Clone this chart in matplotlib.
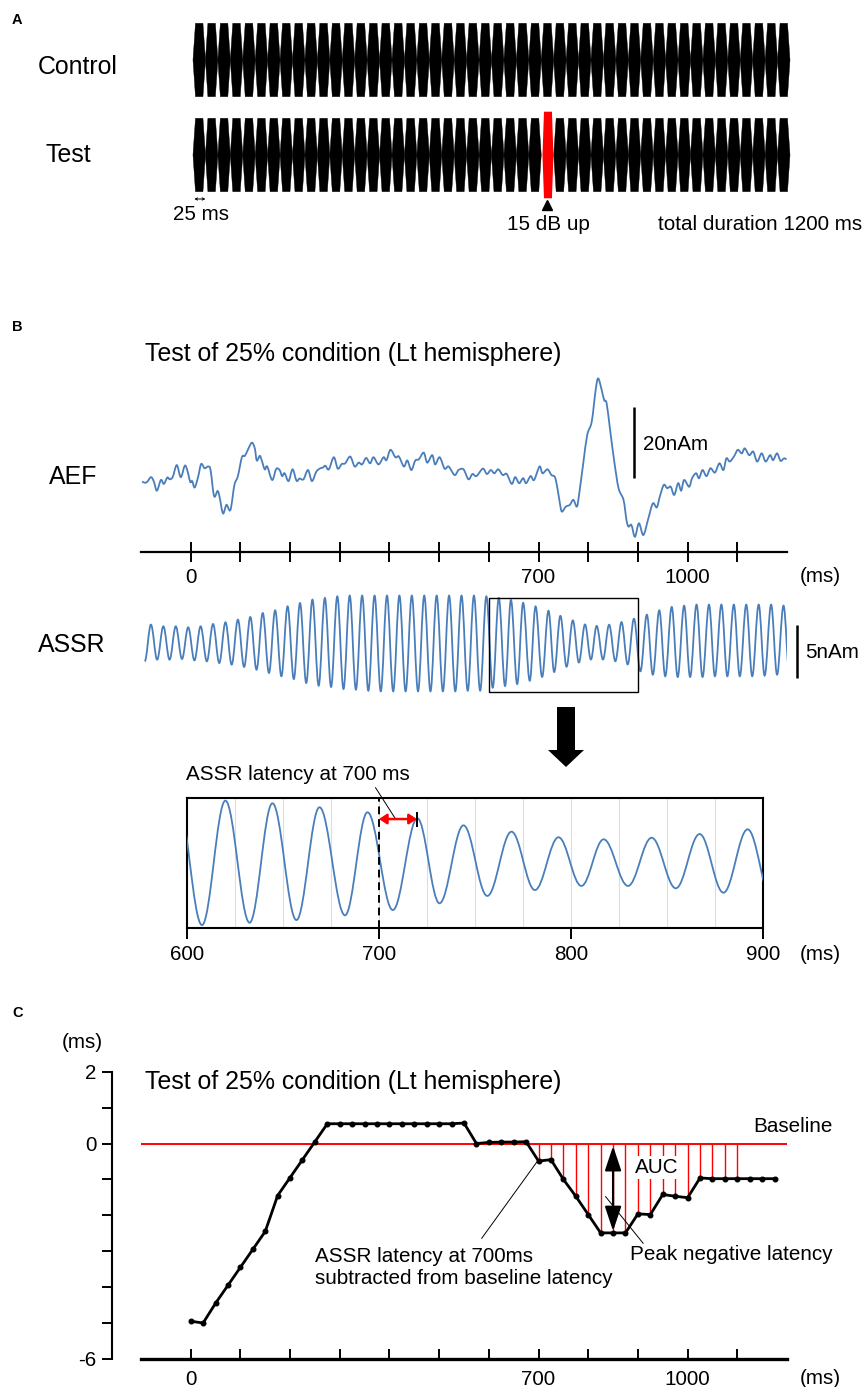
import numpy as np
import matplotlib
matplotlib.use("Agg")
import matplotlib.pyplot as plt
from matplotlib.path import Path
from matplotlib.patches import PathPatch, Polygon, Rectangle

plt.rcParams['font.family'] = ['Liberation Sans', 'DejaVu Sans']

# ---------------- data ----------------
# Panel A: stimulus (40-Hz tone bursts of 25 ms, total 1200 ms)
n_bursts = 48
burst_ms = 25
louder_burst_index = 28          # burst starting at 700 ms (15 dB up)
louder_gain = 1.18               # drawn height relative to the others

# Panel B: AEF waveform (ms, nAm)
aef_t = [-98, -89, -80, -74, -68, -60, -54, -47, -42, -36,
         -28, -20, -12, -7, -1, 3, 8, 15, 21, 28,
         35, 40, 47, 54, 58, 65, 72, 80, 88, 95,
         103, 109, 115, 123, 129, 133, 139, 143, 149, 154,
         164, 172, 179, 184, 189, 197, 205, 213, 219, 227,
         236, 244, 253, 261, 266, 271, 278, 288, 296, 304,
         311, 321, 330, 338, 345, 353, 361, 368, 378, 388,
         394, 402, 412, 419, 429, 436, 444, 452, 459, 469,
         476, 486, 492, 501, 511, 519, 531, 539,
         549, 559, 567, 575, 588, 596, 604, 611, 619, 628,
         636, 646, 653, 661, 669, 675, 684, 691, 702, 708,
         718, 726, 733, 738, 743, 747, 755, 763, 770, 777,
         781, 790, 798, 807, 815, 820, 827, 832, 837, 844,
         852, 861, 871, 877, 881, 887, 894, 902, 911, 921,
         930, 938, 944, 952, 959, 966, 973, 981, 987, 993,
         1003, 1009, 1017, 1023, 1030, 1038, 1046, 1055, 1064, 1072,
         1078, 1085, 1094, 1101, 1109, 1115, 1124, 1132, 1140, 1149,
         1157, 1166, 1172, 1180, 1187, 1194, 1199]
aef_v = [-0.5, -0.7, 0.8, -0.5, -3.0, 0.0, -1.1, 0.7, 0.2, 0.9,
         4.2, 0.8, 4.0, 2.8, -0.5, -0.3, -2.1, 0.9, 4.5, 3.3,
         3.8, 2.8, -4.5, -3.1, -4.7, -9.4, -7.0, -8.4, -1.4, 1.1,
         6.4, 6.8, 8.5, 10.5, 8.9, 5.5, 6.8, 5.5, 3.0, 3.8,
         0.0, 3.1, 2.8, 1.1, 1.9, -0.3, 3.0, -0.2, 0.4, 0.2,
         2.8, -0.3, 2.4, 3.3, 3.5, 4.0, 3.0, 6.4, 3.2, 4.5,
         4.7, 6.6, 3.8, 4.9, 4.4, 6.2, 4.7, 6.4, 4.4, 6.4,
         5.6, 8.5, 6.4, 6.6, 3.8, 5.5, 2.8, 5.5, 5.8, 7.7,
         4.9, 7.0, 4.4, 6.4, 3.2, 3.8, 1.4, 2.8,
         3.0, 0.2, 1.7, 1.1, 3.2, 1.7, 2.8, 1.9, 3.0, 1.4,
         1.7, -1.1, 0.8, -0.9, 0.5, -0.9, 1.1, 0.0, 3.8, 1.9,
         3.0, 1.4, 0.8, -2.3, -6.6, -8.9, -7.5, -7.0, -5.6, -7.5,
         -4.7, 4.7, 12.7, 16.4, 25.4, 28.6, 25.4, 22.5, 21.6, 14.1,
         5.6, -2.3, -5.6, -11.3, -13.1, -12.7, -16.0, -12.2, -15.5, -10.8,
         -6.6, -7.7, -4.7, -1.4, -2.3, -1.9, -4.2, -0.9, -3.0, 0.0,
         -1.9, 0.5, 1.9, 0.5, 2.8, 1.1, 3.3, 2.1, 4.7, 2.8,
         6.1, 5.2, 6.8, 8.5, 7.5, 8.9, 7.0, 8.0, 5.2, 7.5,
         5.2, 7.0, 5.6, 7.5, 5.4, 6.1, 5.8]

# Panel B: ASSR waveform, peaks and troughs (ms, nAm)
assr_peak_t = [-80, -55, -30, -5, 20, 45, 70, 95, 120, 145, 170, 195, 220, 245,
               270, 295, 320, 345, 370, 395, 420, 445, 470, 495, 520, 545, 570, 595,
               620, 644.5, 669, 694, 720, 744, 769, 793.5, 817, 842, 867, 892,
               918, 943, 968, 993, 1018, 1043, 1068, 1093, 1118, 1143, 1168, 1193]
assr_peak_v = [1.73, 1.57, 1.57, 1.48, 1.57, 1.79, 1.95, 2.20, 2.45, 2.83, 3.08, 3.46, 3.77, 4.09,
               4.25, 4.40, 4.47, 4.47, 4.47, 4.47, 4.47, 4.47, 4.47, 4.47, 4.47, 4.47, 4.47, 4.40,
               4.24, 4.06, 3.79, 3.45, 3.04, 2.56, 2.13, 1.75, 1.61, 1.72, 1.97, 2.29,
               2.67, 3.08, 3.40, 3.52, 3.62, 3.62, 3.62, 3.62, 3.62, 3.62, 3.62, 3.52]
assr_trough_t = [-92.5, -67.5, -42.5, -17.5, 7.5, 32.5, 57.5, 82.5, 107.5, 132.5, 157.5, 182.5,
                 207.5, 232.5, 257.5, 282.5, 307.5, 332.5, 357.5, 382.5, 407.5, 432.5, 457.5,
                 482.5, 507.5, 532.5, 557.5, 582.5,
                 607.8, 632.6, 657, 682.3, 707.2, 731.5, 756.4, 781.2, 805.4, 829.7, 854.6, 879.4,
                 905, 930, 955, 980, 1005, 1030, 1055, 1080, 1105, 1130, 1155, 1180, 1205]
assr_trough_v = [-1.73, -1.57, -1.57, -1.51, -1.64, -1.73, -1.89, -2.04, -2.26, -2.52, -2.83, -3.14,
                 -3.40, -3.77, -4.03, -4.15, -4.34, -4.40, -4.50, -4.56, -4.56, -4.56, -4.56,
                 -4.56, -4.56, -4.56, -4.50, -4.50,
                 -4.22, -4.06, -3.88, -3.56, -3.20, -2.74, -2.24, -1.84, -1.56, -1.56, -1.72, -2.02,
                 -2.67, -2.99, -3.14, -3.21, -3.21, -3.21, -3.14, -3.14, -3.14, -3.14, -3.08, -2.99, -2.99]
zoom_window = (600, 900)
latency_peak_ms = 719.7      # first ASSR peak after 700 ms
latency_ref_ms = 700

# Panel C: ASSR latency change relative to baseline (ms)
lat_t = [0, 25, 50, 75, 100, 125, 150, 175, 200, 225, 250, 275,
         300, 325, 350, 375, 400, 425, 450, 475, 500, 525, 550, 575,
         600, 625, 650, 675, 700, 725, 750, 775, 800, 825, 850, 875,
         900, 925, 950, 975, 1000, 1025, 1050, 1075, 1100, 1125, 1150, 1175]
lat_v = [-4.95, -5.0, -4.45, -3.95, -3.45, -2.95, -2.45, -1.45, -0.95, -0.45, 0.05, 0.55,
         0.55, 0.55, 0.55, 0.55, 0.55, 0.55, 0.55, 0.55, 0.55, 0.55, 0.57, 0.0,
         0.03, 0.04, 0.04, 0.05, -0.49, -0.45, -1.0, -1.47, -1.98, -2.49, -2.49, -2.49,
         -1.96, -1.98, -1.42, -1.47, -1.51, -0.96, -0.98, -0.98, -0.98, -0.98, -0.98, -0.98]
auc_range = (700, 1100)
peak_neg_ms = 850

# ---------------- helpers ----------------
W, H = 863, 1387
fig = plt.figure(figsize=(W / 100, H / 100), dpi=100)


def fx(px):
    return px / W


def fy(py):
    return 1 - py / H


def add_ax(left, top, right, bottom):
    return fig.add_axes([left / W, 1 - bottom / H, (right - left) / W, (bottom - top) / H])


def extrema_path(ts, vs):
    """smooth oscillation through alternating extrema (horizontal tangents)"""
    k = 1 - 2 / np.pi
    verts = [(ts[0], vs[0])]
    codes = [Path.MOVETO]
    for i in range(len(ts) - 1):
        d = ts[i + 1] - ts[i]
        verts += [(ts[i] + k * d, vs[i]), (ts[i + 1] - k * d, vs[i + 1]), (ts[i + 1], vs[i + 1])]
        codes += [Path.CURVE4] * 3
    return Path(verts, codes)


def smooth_path(ts, vs):
    pts = np.column_stack([ts, vs]).astype(float)
    n = len(pts)
    verts = [pts[0]]
    codes = [Path.MOVETO]
    for i in range(n - 1):
        p0 = pts[max(i - 1, 0)]
        p1 = pts[i]
        p2 = pts[i + 1]
        p3 = pts[min(i + 2, n - 1)]
        verts += [p1 + (p2 - p0) / 6, p2 - (p3 - p1) / 6, p2]
        codes += [Path.CURVE4] * 3
    return Path(verts, codes)


BIG = 17.9
SMALL = 14.9
BLUE = '#4A7EBB'

# ---------------- Panel A ----------------
axA = add_ax(193, 20, 790, 210)
axA.set_xlim(0, n_bursts * burst_ms)
axA.set_ylim(-4.09, 1.09)
axA.axis('off')
row_centers = {'Control': 0.0, 'Test': -2.59}
taper = 5
for row, c in row_centers.items():
    for i in range(n_bursts):
        t0 = i * burst_ms
        if row == 'Test' and i == louder_burst_index:
            h = louder_gain
            poly = [(t0 + 2.5, c), (t0 + 5.5, c + h), (t0 + 21.5, c + h), (t0 + 24.5, c),
                    (t0 + 21.5, c - h), (t0 + 5.5, c - h)]
            axA.add_patch(Polygon(poly, closed=True, fc='#FF0000', ec='none', clip_on=False, zorder=3))
        else:
            h = 1.0
            poly = [(t0, c), (t0 + taper, c + h), (t0 + burst_ms - taper, c + h),
                    (t0 + burst_ms, c), (t0 + burst_ms - taper, c - h), (t0 + taper, c - h)]
            axA.add_patch(Polygon(poly, closed=True, fc='black', ec='black', lw=0.3,
                                  clip_on=False))
louder_mid = louder_burst_index * burst_ms + burst_ms / 2
axA.plot([louder_mid], [-3.95], marker='^', color='black', ms=6.5, clip_on=False)
axA.annotate('', xy=(burst_ms * 0.1, -3.79), xytext=(burst_ms, -3.79),
             arrowprops=dict(arrowstyle='<->', lw=0.7, color='black', mutation_scale=4,
                             shrinkA=0, shrinkB=0), annotation_clip=False)

fig.text(fx(12), fy(20), 'A', fontsize=10.5, fontweight='bold', ha='left', va='center')
fig.text(fx(38), fy(67), 'Control', fontsize=BIG, ha='left', va='center')
fig.text(fx(45), fy(155), 'Test', fontsize=BIG, ha='left', va='center')
fig.text(fx(173), fy(214), '25 ms', fontsize=SMALL, ha='left', va='center')
fig.text(fx(548), fy(225), '15 dB up', fontsize=SMALL, ha='center', va='center')
fig.text(fx(862), fy(225), 'total duration 1200 ms', fontsize=SMALL, ha='right', va='center')

# ---------------- Panel B: AEF ----------------
fig.text(fx(12), fy(327), 'B', fontsize=10.5, fontweight='bold', ha='left', va='center')
fig.text(fx(145), fy(354), 'Test of 25% condition (Lt hemisphere)', fontsize=BIG,
         ha='left', va='center')

axB = add_ax(141, 365, 787, 552)
axB.set_xlim(-100, 1200)
axB.set_ylim(-20.28, 32.39)
axB.add_patch(PathPatch(smooth_path(aef_t, aef_v), fc='none', ec=BLUE, lw=1.3))
for s in ['top', 'right', 'left']:
    axB.spines[s].set_visible(False)
axB.spines['bottom'].set_linewidth(1.6)
axB.set_yticks([])
xt = list(range(0, 1200, 100))
axB.set_xticks(xt)
axB.set_xticklabels([str(v) if v in (0, 700, 1000) else '' for v in xt], fontsize=SMALL)
axB.tick_params(axis='x', direction='inout', length=14, width=1.4, pad=4.5)
axB.vlines(892, 0.5, 20.5, color='black', lw=1.8)
fig.text(fx(643), fy(445), '20nAm', fontsize=SMALL, ha='left', va='center')
fig.text(fx(800), fy(577), '(ms)', fontsize=SMALL, ha='left', va='center')
fig.text(fx(49), fy(477), 'AEF', fontsize=BIG, ha='left', va='center')

# ---------------- Panel B: ASSR ----------------
axS = add_ax(141, 590, 787, 700)
axS.set_xlim(-100, 1200)
axS.set_ylim(-5.38, 5.0)
axS.axis('off')
assr_t = np.array(assr_peak_t + assr_trough_t)
assr_v = np.array(assr_peak_v + assr_trough_v)
order = np.argsort(assr_t)
assr_t, assr_v = assr_t[order], assr_v[order]
axS.add_patch(PathPatch(extrema_path(assr_t, assr_v), fc='none', ec=BLUE, lw=1.3))
axS.add_patch(Rectangle((zoom_window[0], -4.62), zoom_window[1] - zoom_window[0], 8.87,
                        fill=False, ec='black', lw=1.0))
axS.vlines(1220, -3.3, 1.7, color='black', lw=1.8, clip_on=False)
fig.text(fx(805), fy(653), '5nAm', fontsize=SMALL, ha='left', va='center')
fig.text(fx(38), fy(645), 'ASSR', fontsize=BIG, ha='left', va='center')

# big down arrow
arrow_px = [(557, 707), (575, 707), (575, 750), (584, 750), (566, 767), (548, 750), (557, 750)]
fig.patches.append(Polygon([(fx(x), fy(y)) for x, y in arrow_px], closed=True,
                           transform=fig.transFigure, fc='black', ec='none'))

# ---------------- Panel B: zoomed ASSR ----------------
axI = add_ax(187, 798, 763, 928)
axI.set_xlim(*zoom_window)
axI.set_ylim(-4.42, 4.42)
axI.set_xticks([600, 700, 800, 900])
axI.set_xticks(np.arange(625, 900, 25), minor=True)
axI.set_xticklabels(['600', '700', '800', '900'], fontsize=SMALL)
axI.tick_params(axis='x', which='major', direction='out', length=8, width=1.4, pad=4.5)
axI.tick_params(axis='x', which='minor', length=0)
axI.set_yticks([])
axI.grid(axis='x', which='both', color='#DDDDDD', lw=0.8)
axI.set_axisbelow(True)
for s in axI.spines.values():
    s.set_linewidth(1.5)
axI.add_patch(PathPatch(extrema_path(assr_t, assr_v), fc='none', ec=BLUE, lw=1.3, zorder=3))
axI.axvline(latency_ref_ms, color='black', lw=1.4, ls=(0, (4, 2.5)), zorder=4)
axI.annotate('', xy=(latency_ref_ms, 2.99), xytext=(latency_peak_ms, 2.99),
             arrowprops=dict(arrowstyle='<|-|>,head_length=0.45,head_width=0.3', color='#FF0000',
                             lw=1.8, mutation_scale=10, shrinkA=0, shrinkB=0), zorder=5)
axI.vlines(latency_peak_ms, 2.45, 3.47, color='black', lw=1.4, zorder=5)
axI.plot([698.2, 708.4], [5.12, 3.04], color='black', lw=0.7, clip_on=False)
fig.text(fx(186), fy(775), 'ASSR latency at 700 ms', fontsize=SMALL, ha='left', va='center')
fig.text(fx(800), fy(954), '(ms)', fontsize=SMALL, ha='left', va='center')

# ---------------- Panel C ----------------
fig.text(fx(12), fy(1013), 'C', fontsize=10.5, fontweight='bold', ha='left', va='center')
axC = add_ax(112, 1071.7, 787, 1358.9)
axC.set_xlim(-158.35, 1200)
axC.set_ylim(-6, 2)
axC.spines['top'].set_visible(False)
axC.spines['right'].set_visible(False)
axC.spines['left'].set_bounds(-6, 2)
axC.spines['left'].set_linewidth(1.5)
axC.spines['bottom'].set_bounds(-100, 1200)
axC.spines['bottom'].set_linewidth(2.4)
yt = list(range(-6, 3))
axC.set_yticks(yt)
axC.set_yticklabels([('-6' if v == -6 else str(v)) if v in (-6, 0, 2) else '' for v in yt],
                    fontsize=SMALL)
axC.tick_params(axis='y', direction='out', length=7, width=1.4, pad=4)
axC.set_xticks(xt)
axC.set_xticklabels([str(v) if v in (0, 700, 1000) else '' for v in xt], fontsize=SMALL)
axC.tick_params(axis='x', direction='in', length=7, width=1.4, pad=8)

axC.hlines(0, -100, 1200, color='#FF0000', lw=1.4, zorder=2)
lat_t_arr = np.array(lat_t)
lat_v_arr = np.array(lat_v)
m = (lat_t_arr >= auc_range[0]) & (lat_t_arr <= auc_range[1])
axC.vlines(lat_t_arr[m], lat_v_arr[m], 0, color='#FF0000', lw=1.0, zorder=2)
axC.text(938, -0.68, 'AUC', fontsize=SMALL, ha='center', va='center', zorder=3,
         bbox=dict(fc='white', ec='none', pad=1.5))
axC.plot(lat_t, lat_v, color='black', lw=2.0, marker='o', ms=3.3, zorder=5)
axC.annotate('', xy=(peak_neg_ms, -2.44), xytext=(peak_neg_ms, -0.07),
             arrowprops=dict(arrowstyle='<|-|>,head_length=0.75,head_width=0.25', color='black',
                             lw=1.6, mutation_scale=20, shrinkA=0, shrinkB=0), zorder=6)
axC.plot([585.7, 696.4], [-2.64, -0.52], color='black', lw=0.7, zorder=6)
axC.plot([910.5, 835], [-2.78, -1.48], color='black', lw=0.7, zorder=6)

fig.text(fx(62), fy(1043), '(ms)', fontsize=SMALL, ha='left', va='center')
fig.text(fx(145), fy(1082), 'Test of 25% condition (Lt hemisphere)', fontsize=BIG,
         ha='left', va='center')
fig.text(fx(833), fy(1127), 'Baseline', fontsize=SMALL, ha='right', va='center')
fig.text(fx(315), fy(1256), 'ASSR latency at 700ms', fontsize=SMALL, ha='left', va='center')
fig.text(fx(315), fy(1279), 'subtracted from baseline latency', fontsize=SMALL, ha='left',
         va='center')
fig.text(fx(630), fy(1255), 'Peak negative latency', fontsize=SMALL, ha='left', va='center')
fig.text(fx(800), fy(1378), '(ms)', fontsize=SMALL, ha='left', va='center')

fig.savefig('out.png', dpi=100)
